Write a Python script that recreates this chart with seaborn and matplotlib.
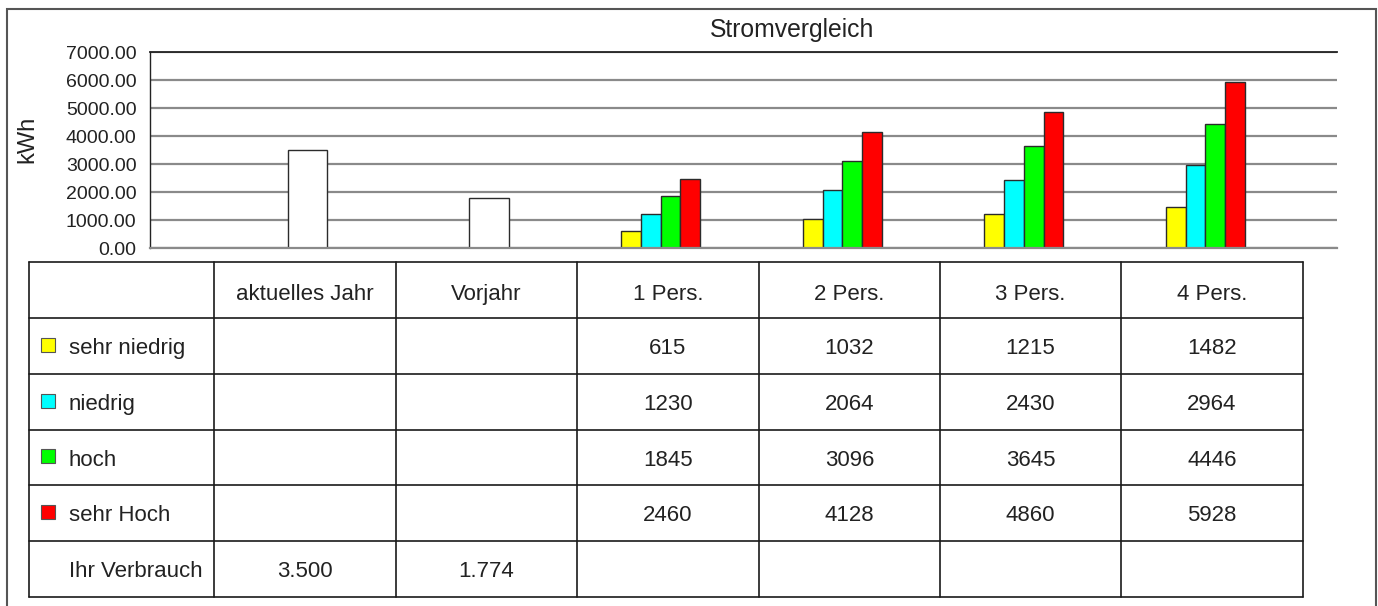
import numpy as np
import pandas as pd
import matplotlib
matplotlib.use("Agg")
import matplotlib.pyplot as plt
import seaborn as sns

from matplotlib.lines import Line2D
from matplotlib.patches import Rectangle
from matplotlib.ticker import FormatStrFormatter


categories = ["aktuelles Jahr", "Vorjahr", "1 Pers.", "2 Pers.", "3 Pers.", "4 Pers."]
persons = ["1 Pers.", "2 Pers.", "3 Pers.", "4 Pers."]
levels = ["sehr niedrig", "niedrig", "hoch", "sehr Hoch"]

sehr_niedrig = [615, 1032, 1215, 1482]
niedrig = [1230, 2064, 2430, 2964]
hoch = [1845, 3096, 3645, 4446]
sehr_hoch = [2460, 4128, 4860, 5928]

own_label = "Ihr Verbrauch"
own_cats = ["aktuelles Jahr", "Vorjahr"]
ihr_verbrauch = [3500, 1774]

level_colors = ["#ffff00", "#00ffff", "#00ff00", "#ff0000"]

W, H = 1378, 606


def fx(x):
    return x / W


def fy(y):
    return 1 - y / H


def main():
    sns.set_theme(style="white")
    plt.rcParams['font.family'] = ['Liberation Sans', 'DejaVu Sans']

    series = [sehr_niedrig, niedrig, hoch, sehr_hoch]
    rows = []
    for lvl, vals in zip(levels, series):
        for cat, v in zip(persons, vals):
            rows.append({"Kategorie": cat, "Stufe": lvl, "kWh": v})
    df_groups = pd.DataFrame(rows)
    df_own = pd.DataFrame({"Kategorie": own_cats, "kWh": ihr_verbrauch})

    fig = plt.figure(figsize=(W / 100, H / 100), dpi=100)
    ax = fig.add_axes([fx(150), fy(248), (1337 - 150) / W, (248 - 52) / H])

    palette = dict(zip(levels, level_colors))
    palette[own_label] = "white"

    sns.barplot(data=df_groups, x="Kategorie", y="kWh", hue="Stufe",
                order=categories, hue_order=levels + [own_label],
                palette=palette, width=0.544, saturation=1, errorbar=None,
                edgecolor="#2b2b2b", linewidth=1, legend=False, ax=ax)
    sns.barplot(data=df_own, x="Kategorie", y="kWh", order=categories,
                color="white", width=0.217, saturation=1, errorbar=None,
                edgecolor="#2b2b2b", linewidth=1, ax=ax)

    ax.set(xlabel="", ylabel="")
    ax.set_xlim(-0.867, 5.670)
    ax.set_ylim(0, 7000)
    ax.set_yticks(np.arange(0, 7001, 1000))
    ax.yaxis.set_major_formatter(FormatStrFormatter("%.2f"))
    ax.tick_params(axis="y", length=0, pad=9.7, labelsize=14, labelcolor="#222222")
    ax.tick_params(axis="x", bottom=False, labelbottom=False)

    ax.set_axisbelow(True)
    ax.yaxis.grid(True, color="#8a8a8a", linewidth=1.6)
    ax.spines["right"].set_visible(False)
    ax.spines["top"].set_color("#222222")
    ax.spines["top"].set_linewidth(1.3)
    ax.spines["left"].set_color("#222222")
    ax.spines["left"].set_linewidth(1.0)
    ax.spines["bottom"].set_color("#8a8a8a")
    ax.spines["bottom"].set_linewidth(1.6)

    fig.text(fx(792), fy(36.7), "Stromvergleich", ha="center", va="baseline",
             fontsize=17.8, color="#222222")
    fig.text(fx(27.5), fy(139), "kWh", ha="center", va="center", rotation=90,
             fontsize=17, color="#222222")

    # outer frame
    fig.add_artist(Rectangle((fx(7), fy(660)), (1375.5 - 7) / W, (660 - 9) / H,
                             transform=fig.transFigure, fill=False,
                             edgecolor="#555555", linewidth=1.5))

    # data table below the chart
    col_edges = [29, 214, 396, 577, 759, 940, 1121, 1303]
    row_edges = np.linspace(262.5, 596.7, 7)
    line_kw = dict(transform=fig.transFigure, color="#1a1a1a", linewidth=1.2)
    for x in col_edges:
        fig.add_artist(Line2D([fx(x), fx(x)], [fy(row_edges[0]), fy(row_edges[-1])], **line_kw))
    for y in row_edges:
        fig.add_artist(Line2D([fx(col_edges[0]), fx(col_edges[-1])], [fy(y), fy(y)], **line_kw))

    centers = [(a + b) / 2 for a, b in zip(col_edges[:-1], col_edges[1:])]
    txt_kw = dict(fontsize=16, color="#222222", va="baseline")

    # header
    for cat, cx in zip(categories, centers[1:]):
        fig.text(fx(cx), fy(row_edges[0] + 37.5), cat, ha="center", **txt_kw)

    # level rows
    for i, (lvl, col, vals) in enumerate(zip(levels, level_colors, series)):
        top = row_edges[i + 1]
        fig.add_artist(Rectangle((fx(41), fy(top + 33.7)), 14 / W, 14 / H,
                                 transform=fig.transFigure, facecolor=col,
                                 edgecolor="#555555", linewidth=0.8))
        fig.text(fx(69), fy(top + 36), lvl, ha="left", **txt_kw)
        for cat, v in zip(persons, vals):
            cx = centers[1 + categories.index(cat)]
            fig.text(fx(cx), fy(top + 36), str(v), ha="center", **txt_kw)

    # own consumption row
    top = row_edges[5]
    fig.text(fx(69), fy(top + 36), own_label, ha="left", **txt_kw)
    for cat, v in zip(own_cats, ihr_verbrauch):
        cx = centers[1 + categories.index(cat)]
        label = f"{v / 1000:.3f}"
        fig.text(fx(cx), fy(top + 36), label, ha="center", **txt_kw)

    fig.savefig("out.png", dpi=100)


if __name__ == "__main__":
    main()
